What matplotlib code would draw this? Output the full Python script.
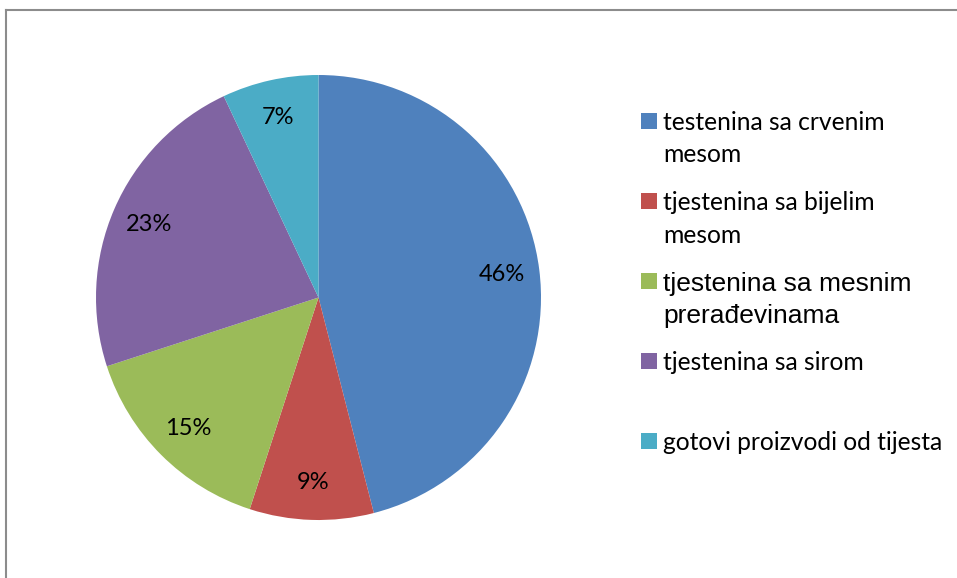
import matplotlib
matplotlib.use("Agg")
import matplotlib.pyplot as plt
from matplotlib.patches import Rectangle
from matplotlib.lines import Line2D

labels = ["testenina sa crvenim\nmesom",
          "tjestenina sa bijelim\nmesom",
          "tjestenina sa mesnim\nprerađevinama",
          "tjestenina sa sirom",
          "gotovi proizvodi od tijesta"]
shares = [46, 9, 15, 23, 7]
colors = ["#4F81BD", "#C0504D", "#9BBB59", "#8064A2", "#4BACC6"]
label_fonts = ["Lato", "Lato", "Liberation Sans", "Lato", "Lato"]
label_sizes = [17.7, 17.7, 19, 17.7, 17.7]

W, H = 957, 578
fig = plt.figure(figsize=(W / 100, H / 100), dpi=100)
fig.patch.set_facecolor("white")

# chart frame (top and left edges visible)
fig.add_artist(Line2D([6 / W, 6 / W], [0, 1 - 10 / H], transform=fig.transFigure,
                      color="#8c8c8c", lw=1.5))
fig.add_artist(Line2D([6 / W, 1], [1 - 10 / H, 1 - 10 / H], transform=fig.transFigure,
                      color="#8c8c8c", lw=1.5))

# pie area in pixels
cx, cy, r = 318.5, 297.5, 222.5
ax = fig.add_axes([(cx - r) / W, (H - cy - r) / H, 2 * r / W, 2 * r / H])
wedges, texts, autotexts = ax.pie(shares, colors=colors, startangle=90, counterclock=False,
                                  autopct="%d%%", pctdistance=0.83, radius=1,
                                  wedgeprops=dict(linewidth=0))
for t in autotexts:
    t.set_fontfamily("Lato")
    t.set_fontsize(17)
    t.set_color("black")
ax.set_xlim(-1, 1)
ax.set_ylim(-1, 1)
ax.set_aspect("equal")
ax.axis("off")

# legend drawn by hand to mimic the Excel layout
x_box, x_text = 641, 663
y0, step, line_h = 121, 80, 32
for i, (lab, col) in enumerate(zip(labels, colors)):
    y = y0 + i * step
    fig.add_artist(Rectangle((x_box / W, 1 - (y + 8) / H), 15.5 / W, 16 / H,
                             transform=fig.transFigure, facecolor=col, edgecolor="none"))
    for j, line in enumerate(lab.split("\n")):
        fig.text(x_text / W, 1 - (y + j * line_h) / H, line, ha="left", va="center_baseline",
                 fontsize=label_sizes[i], family=[label_fonts[i], "DejaVu Sans"], color="black")

fig.savefig("out.png", dpi=100)
